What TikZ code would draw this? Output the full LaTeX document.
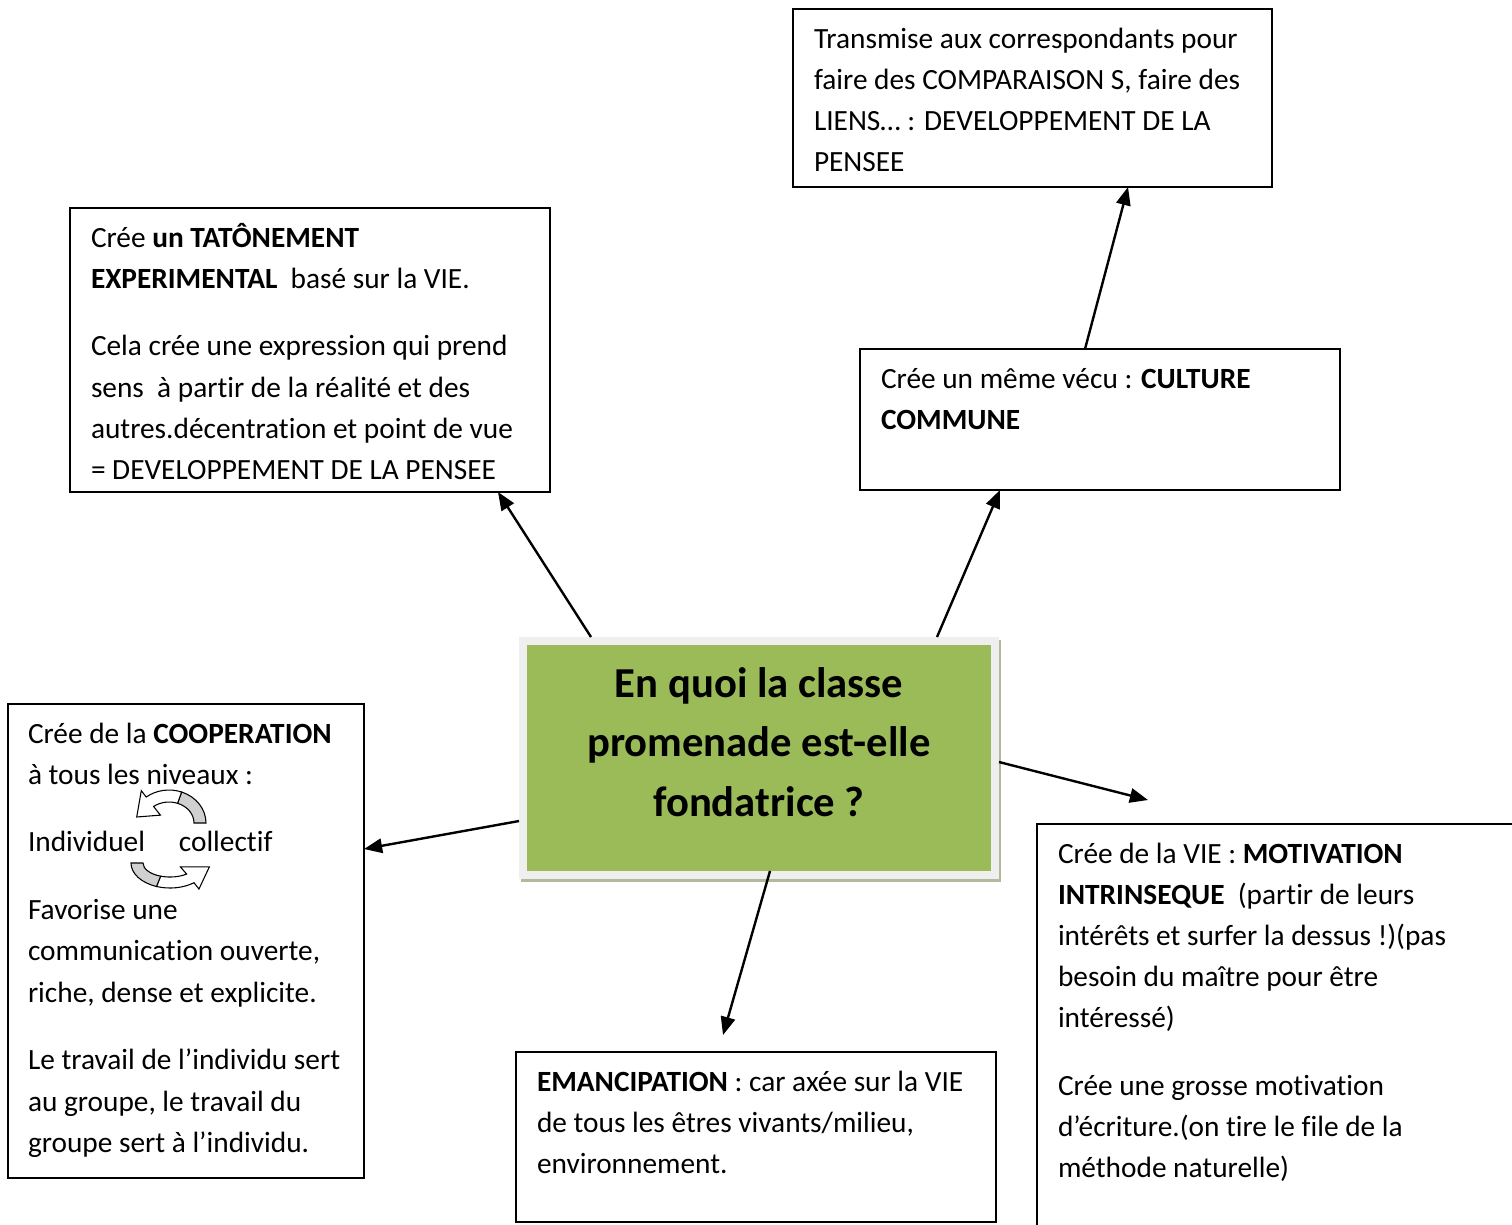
\documentclass[tikz,border=0pt]{standalone}
\usepackage{fontspec}
\setmainfont{Carlito}[Ligatures={NoCommon,NoContextual,NoRequired},Contextuals={NoAlternate}]
\usetikzlibrary{arrows.meta}
\definecolor{titlegreen}{HTML}{9BBB59}
\definecolor{framegrey}{HTML}{EFEFEF}
\definecolor{shadowc}{HTML}{B2BA9C}
\definecolor{arrgrey}{HTML}{D0D0D0}
\newcommand\txtbox[2]{\parbox[t]{#1}{\fontsize{11}{15.43}\selectfont\raggedright\setlength\parindent{0pt}\setlength\parskip{10pt}#2}}
\newcommand\bx[5]{\node[boxst, minimum width={(#4-#2)*0.375pt}, minimum height={(#5-#3)*0.375pt}, anchor=north west] (#1) at (#2,#3) {};}
\tikzset{
  boxst/.style={draw=black, line width=0.75pt, fill=white, inner sep=0pt, outer sep=0pt},
  txt/.style={anchor=base west, inner sep=0pt, outer sep=0pt},
  arr/.style={line width=0.9pt, -{Triangle[length=6.8pt,width=5.4pt]}},
  carr/.style={draw=black, line width=0.4pt, line join=miter}
}
\begin{document}
\begin{tikzpicture}[x=0.375pt, y=-0.375pt]
\useasboundingbox (0,0) rectangle (1512,1224);
\fill[white] (0,0) rectangle (1512,1224);

% boxes
\bx{trans}{793}{9}{1272}{187}
\bx{tat}{70}{208}{550}{492}
\bx{cul}{860}{349}{1340}{490}
\bx{coop}{8}{704}{364}{1178}
\bx{eman}{516}{1052}{996}{1222}
\bx{motiv}{1037}{824}{1540}{1250}

% title box with frame and shadow
\fill[shadowc] (521,640) rectangle (1001,882);
\node[fill=framegrey, inner sep=0pt, outer sep=0pt, minimum width={480*0.375pt}, minimum height={242*0.375pt}, anchor=north west] (title) at (519,637) {};
\node[fill=titlegreen, inner sep=0pt, outer sep=0pt, minimum width={464*0.375pt}, minimum height={226*0.375pt}, anchor=north west] (titlein) at (527,645) {};
\node[anchor=base, inner sep=0pt] (titletxt) at (759,697) {\parbox[t]{180pt}{\centering\fontsize{16}{22.45}\selectfont\bfseries En quoi la classe\\promenade est-elle\\fondatrice ?}};

% texts
\node[txt] (ttrans) at (814,48) {\txtbox{175pt}{Transmise aux correspondants pour\\faire des COMPARAISON S, faire des\\LIENS… : DEVELOPPEMENT DE LA\\PENSEE}};
\node[txt] (ttat) at (91,247) {\txtbox{175pt}{Crée \textbf{un TATÔNEMENT}\\\textbf{EXPERIMENTAL}\ \ basé sur la VIE.\par Cela crée une expression qui prend\\sens\ \ à partir de la réalité et des\\autres.décentration et point de vue\\= DEVELOPPEMENT DE LA PENSEE}};
\node[txt] (tcul) at (881,388) {\txtbox{175pt}{Crée un même vécu : \textbf{CULTURE}\\\textbf{COMMUNE}}};
\node[txt] (tcoop) at (28,743) {\txtbox{130pt}{Crée de la \textbf{COOPERATION}\\à tous les niveaux :\par Individuel\hspace{12.7pt}collectif\par Favorise une\\communication ouverte,\\riche, dense et explicite.\par Le travail de l’individu sert\\au groupe, le travail du\\groupe sert à l’individu.}};
\node[txt] (teman) at (537,1091) {\txtbox{175pt}{\textbf{EMANCIPATION} : car axée sur la VIE\\de tous les êtres vivants/milieu,\\environnement.}};
\node[txt] (tmotiv) at (1058,863) {\txtbox{175pt}{Crée de la VIE : \textbf{MOTIVATION}\\\textbf{INTRINSEQUE}\ \ (partir de leurs\\intérêts et surfer la dessus !)(pas\\besoin du maître pour être\\intéressé)\par Crée une grosse motivation\\d’écriture.(on tire le file de la\\méthode naturelle)}};

% curved arrows (top)
\filldraw[carr, fill=arrgrey] (206,823) arc[start angle=360, end angle=290, x radius=37, y radius=33]
  -- ({169+25*cos(290)},{823+21*sin(290)}) arc[start angle=290, end angle=360, x radius=25, y radius=21] -- cycle;
\filldraw[carr, fill=white] ({169+37*cos(290)},{823+33*sin(290)}) arc[start angle=290, end angle=232, x radius=37, y radius=33]
  -- ({169+45*cos(232)},{823+41*sin(232)}) -- ({169+33*cos(192)},{823+29*sin(192)})
  -- ({169+14*cos(232)},{823+10*sin(232)}) -- ({169+25*cos(232)},{823+21*sin(232)})
  arc[start angle=232, end angle=290, x radius=25, y radius=21] -- cycle;
% curved arrows (bottom)
\filldraw[carr, fill=arrgrey] (131,863) arc[start angle=180, end angle=110, x radius=39, y radius=25]
  -- ({170+27*cos(110)},{863+14*sin(110)}) arc[start angle=110, end angle=180, x radius=27, y radius=14] -- cycle;
\filldraw[carr, fill=white] ({170+39*cos(110)},{863+25*sin(110)}) arc[start angle=110, end angle=52, x radius=39, y radius=25]
  -- ({170+47*cos(52)},{863+33*sin(52)}) -- ({170+40*cos(10)},{863+22*sin(10)})
  -- ({170+17*cos(52)},{863+5*sin(52)}) -- ({170+27*cos(52)},{863+14*sin(52)})
  arc[start angle=52, end angle=110, x radius=27, y radius=14] -- cycle;

% connectors
\coordinate (freeR) at (1148,800);
\draw[arr] (title.north -| 591,0) -- (tat.south -| 498,0);
\draw[arr] (title.north -| 937,0) -- (cul.south -| 1000,0);
\draw[arr] (cul.north -| 1085,0) -- (trans.south -| 1128,0);
\draw[arr] (title.west |- 0,821) -- (coop.east |- 0,849);
\draw[arr] (title.east |- 0,762) -- (freeR);
\coordinate (freeB) at (723,1035);
\draw[arr] (titlein.south -| 770,0) -- (freeB);
\end{tikzpicture}
\end{document}
